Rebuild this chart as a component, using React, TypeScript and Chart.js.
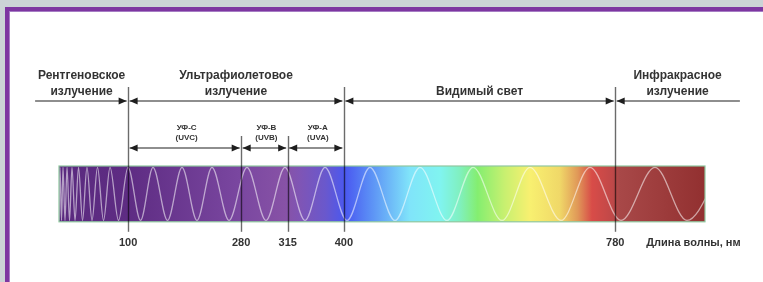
import React, { useEffect, useRef } from "react";
import { Chart, registerables } from "chart.js";

Chart.register(...registerables);

// Positions along the spectrum strip are given in % of the strip length (schematic scale)
const boundaryPos = [10.7, 28.2, 35.4, 44.1, 86.1];
const boundaryLabels = ["100", "280", "315", "400", "780"];
const boundaryMajor = [true, false, false, true, true];
const axisTitle = "Длина волны, нм";

const bandNames = [
  ["Рентгеновское", "излучение"],
  ["Ультрафиолетовое", "излучение"],
  ["Видимый свет"],
  ["Инфракрасное", "излучение"],
];
const bandFrom = [-3.7, 10.7, 44.1, 86.1];
const bandTo = [10.7, 44.1, 86.1, 105.4];

const uvNames = [
  ["УФ-С", "(UVC)"],
  ["УФ-В", "(UVB)"],
  ["УФ-А", "(UVA)"],
];
const uvFrom = [10.7, 28.2, 35.4];
const uvTo = [28.2, 35.4, 44.1];

// wave crests / troughs
const waveX = [
  0, 0.15, 0.39, 0.62, 0.93, 1.24, 1.63, 2.01, 2.48, 3.02, 3.64, 4.33, 5.11, 5.96,
  6.89, 7.9, 9.21, 10.68, 12.62, 14.55, 16.8, 19.04, 21.36, 23.68, 26.32, 29.1,
  32.04, 34.98, 38.08, 41.18, 44.58, 48.14, 52.01, 55.88, 60.06, 64.09, 68.58,
  72.91, 77.71, 82.2, 87.0, 92.26, 97.21, 102.63,
];
const waveLevel = [
  -1, 1, -1, 1, -1, 1, -1, 1, -1, 1, -1, 1, -1, 1, -1, 1, -1, 1, -1, 1, -1, 1,
  -1, 1, -1, 1, -1, 1, -1, 1, -1, 1, -1, 1, -1, 1, -1, 1, -1, 1, -1, 1, -1, 1,
];

const stripStops = [0, 10.7, 28, 35, 37.3, 41.2, 44.3, 48, 54.3, 59, 62, 64.8, 69, 72.9, 77.5, 80.3, 82.5, 85.6, 86.8, 100];
const stripColors = [
  "#5a2a7f", "#5e2c83", "#7a47a0", "#8752a6", "#7f55b5", "#6a58cc", "#4a58f0",
  "#5a8cf5", "#80e4fa", "#80f4f0", "#80f0c0", "#84ee70", "#c8f070", "#f8f070",
  "#f0d868", "#e09858", "#d84c48", "#c04848", "#a84848", "#923030",
];

const FONT = "'Liberation Sans', Arial, sans-serif";
const TEXT = "#333333";

const framePlugin = {
  id: "frame",
  beforeDraw(chart: any) {
    const { ctx, width, height } = chart;
    ctx.save();
    ctx.fillStyle = "#cbd3d6";
    ctx.fillRect(0, 0, width, height);
    ctx.fillStyle = "#7d36a1";
    ctx.fillRect(5, 7, width - 5, height - 7);
    ctx.fillStyle = "#a67dc4";
    ctx.fillRect(9, 11, width - 9, height - 11);
    ctx.fillStyle = "#ffffff";
    ctx.fillRect(10, 12, width - 10, height - 12);
    ctx.restore();
  },
};

const stripPlugin = {
  id: "strip",
  beforeDatasetsDraw(chart: any) {
    const { ctx, chartArea } = chart;
    const { left, right, top, bottom } = chartArea;
    const g = ctx.createLinearGradient(left, 0, right, 0);
    stripStops.forEach((s, i) => g.addColorStop(s / 100, stripColors[i]));
    ctx.save();
    ctx.fillStyle = g;
    ctx.fillRect(left, top, right - left, bottom - top);
    ctx.restore();
  },
};

function arrowHead(ctx: any, tipX: number, y: number, dir: number) {
  // dir = +1 : points right, -1 : points left
  const len = 8;
  const hw = 3.5;
  ctx.beginPath();
  ctx.moveTo(tipX, y);
  ctx.lineTo(tipX - dir * len, y - hw);
  ctx.lineTo(tipX - dir * len, y + hw);
  ctx.closePath();
  ctx.fill();
}

function drawSpans(ctx: any, xs: any, from: number[], to: number[], y: number) {
  ctx.strokeStyle = "#1e1e1e";
  ctx.fillStyle = "#1e1e1e";
  ctx.lineWidth = 1.2;
  from.forEach((f, i) => {
    const x1 = xs.getPixelForValue(f);
    const x2 = xs.getPixelForValue(to[i]);
    const a1 = boundaryPos.includes(f);
    const a2 = boundaryPos.includes(to[i]);
    const s = a1 ? x1 + 1.5 : x1;
    const e = a2 ? x2 - 1.5 : x2;
    ctx.beginPath();
    ctx.moveTo(s, y);
    ctx.lineTo(e, y);
    ctx.stroke();
    if (a1) arrowHead(ctx, s, y, -1);
    if (a2) arrowHead(ctx, e, y, 1);
  });
}

const annotationPlugin = {
  id: "annotations",
  afterDatasetsDraw(chart: any) {
    const { ctx, chartArea } = chart;
    const xs = chart.scales.x;
    const top = chartArea.top;
    const bottom = chartArea.bottom;
    ctx.save();

    // strip border
    ctx.strokeStyle = "#8fc79f";
    ctx.lineWidth = 1.2;
    ctx.strokeRect(chartArea.left, top, chartArea.right - chartArea.left, bottom - top);

    // boundary lines
    ctx.strokeStyle = "rgba(0,0,0,0.58)";
    ctx.lineWidth = 1.4;
    boundaryPos.forEach((p, i) => {
      const x = Math.round(xs.getPixelForValue(p)) + 0.5;
      ctx.beginPath();
      ctx.moveTo(x, boundaryMajor[i] ? top - 79 : top - 30);
      ctx.lineTo(x, bottom + 10);
      ctx.stroke();
    });

    // arrows
    drawSpans(ctx, xs, bandFrom, bandTo, top - 65);
    drawSpans(ctx, xs, uvFrom, uvTo, top - 18);

    // band labels
    ctx.fillStyle = TEXT;
    ctx.textAlign = "center";
    ctx.textBaseline = "alphabetic";
    ctx.font = `bold 12px ${FONT}`;
    bandNames.forEach((lines, i) => {
      const cx = (xs.getPixelForValue(bandFrom[i]) + xs.getPixelForValue(bandTo[i])) / 2;
      const base = lines.length === 2 ? top - 87 : top - 71;
      lines.forEach((t, j) => ctx.fillText(t, cx, base + j * 16));
    });

    ctx.font = `bold 8px ${FONT}`;
    uvNames.forEach((lines, i) => {
      const cx = (xs.getPixelForValue(uvFrom[i]) + xs.getPixelForValue(uvTo[i])) / 2;
      lines.forEach((t, j) => ctx.fillText(t, cx + 2, top - 36 + j * 10));
    });

    // axis title
    ctx.font = `bold 11px ${FONT}`;
    ctx.textAlign = "left";
    ctx.textBaseline = "middle";
    ctx.fillText(axisTitle, xs.getPixelForValue(boundaryPos[4]) + 31, bottom + 15 + 6.6);

    ctx.restore();
  },
};

export default function App() {
  const ref = useRef<HTMLCanvasElement | null>(null);

  useEffect(() => {
    if (!ref.current) return;
    const chart = new Chart(ref.current, {
      type: "line",
      data: {
        datasets: [
          {
            data: waveX.map((x, i) => ({ x, y: waveLevel[i] })),
            borderColor: "rgba(255,255,255,0.55)",
            borderWidth: 1.3,
            pointRadius: 0,
            cubicInterpolationMode: "monotone",
            fill: false,
            clip: 0,
          } as any,
        ],
      },
      options: {
        responsive: false,
        animation: false,
        events: [],
        layout: { padding: { left: 59, right: 58, top: 166, bottom: 17 } },
        plugins: {
          legend: { display: false },
          tooltip: { enabled: false },
        },
        scales: {
          x: {
            type: "linear",
            min: 0,
            max: 100,
            position: "bottom",
            grid: { display: false, drawTicks: false },
            border: { display: false },
            afterBuildTicks: (s: any) => {
              s.ticks = boundaryPos.map((v) => ({ value: v }));
            },
            ticks: {
              autoSkip: false,
              maxRotation: 0,
              padding: 15,
              color: TEXT,
              font: { family: FONT, size: 11, weight: "bold" },
              callback: (_v: any, i: number) => boundaryLabels[i],
            },
          },
          y: { display: false, min: -1.05, max: 1.05 },
        },
      },
      plugins: [framePlugin, stripPlugin, annotationPlugin],
    } as any);
    return () => chart.destroy();
  }, []);

  return (
    <div style={{ position: "fixed", left: 0, top: 0, width: 763, height: 282 }}>
      <canvas ref={ref} width={763} height={282} style={{ display: "block", width: 763, height: 282 }} />
    </div>
  );
}
